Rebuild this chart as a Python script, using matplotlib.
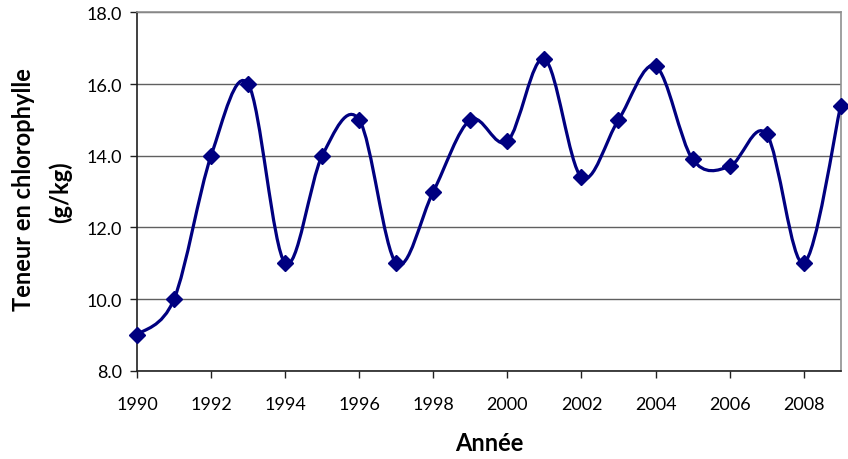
import matplotlib.pyplot as plt
from matplotlib.path import Path
from matplotlib.patches import PathPatch

annees = list(range(1990, 2010))
teneur = [9.0, 10.0, 14.0, 16.0, 11.0, 14.0, 15.0, 11.0, 13.0, 15.0,
          14.4, 16.7, 13.4, 15.0, 16.5, 13.9, 13.7, 14.6, 11.0, 15.4]
ticks_x = list(range(1990, 2009, 2))
ticks_y = [8.0, 10.0, 12.0, 14.0, 16.0, 18.0]

bleu = '#000080'
plt.rcParams['font.family'] = ['Lato', 'DejaVu Sans']


def courbe_lissee(xs, ys):
    # bezier segments through each point (catmull-rom style tangents)
    n = len(xs)
    verts = [(xs[0], ys[0])]
    codes = [Path.MOVETO]
    for i in range(n - 1):
        i0 = max(i - 1, 0)
        i3 = min(i + 2, n - 1)
        c1 = (xs[i] + (xs[i + 1] - xs[i0]) / 6, ys[i] + (ys[i + 1] - ys[i0]) / 6)
        c2 = (xs[i + 1] - (xs[i3] - xs[i]) / 6, ys[i + 1] - (ys[i3] - ys[i]) / 6)
        verts += [c1, c2, (xs[i + 1], ys[i + 1])]
        codes += [Path.CURVE4] * 3
    return Path(verts, codes)


fig = plt.figure(figsize=(8.48, 4.6), dpi=100)
ax = fig.add_axes([0.1616, 0.192, 0.8298, 0.779])

ax.add_patch(PathPatch(courbe_lissee(annees, teneur), facecolor='none',
                       edgecolor=bleu, lw=2.3, zorder=3, clip_on=False))
ax.plot(annees, teneur, linestyle='none', marker='D', markersize=8,
        color=bleu, zorder=4, clip_on=False)

ax.set_xlim(1990, 2009)
ax.set_ylim(8, 18)
ax.set_xticks(ticks_x)
ax.set_yticks(ticks_y)
ax.set_yticklabels(['%.1f' % v for v in ticks_y])

ax.grid(axis='y', color='#606060', lw=1)
ax.set_axisbelow(True)
for s in ['top', 'right']:
    ax.spines[s].set_color('#909090')
    ax.spines[s].set_linewidth(1.2)
for s in ['left', 'bottom']:
    ax.spines[s].set_color('#202020')
    ax.spines[s].set_linewidth(1.2)

ax.tick_params(axis='both', direction='out', length=5, width=1, color='#202020',
               labelsize=13, labelcolor='black')
ax.tick_params(axis='y', pad=6)
ax.tick_params(axis='x', pad=13)

fig.text(24 / 848, 1 - 190 / 460, 'Teneur en chlorophylle', rotation=90,
         ha='center', va='center', fontsize=17, fontweight='bold')
fig.text(60 / 848, 1 - 192 / 460, '(g/kg)', rotation=90,
         ha='center', va='center', fontsize=17, fontweight='bold')
fig.text(489 / 848, 1 - 444 / 460, 'Année', ha='center', va='center',
         fontsize=17, fontweight='bold')

fig.savefig('out.png', dpi=100)
